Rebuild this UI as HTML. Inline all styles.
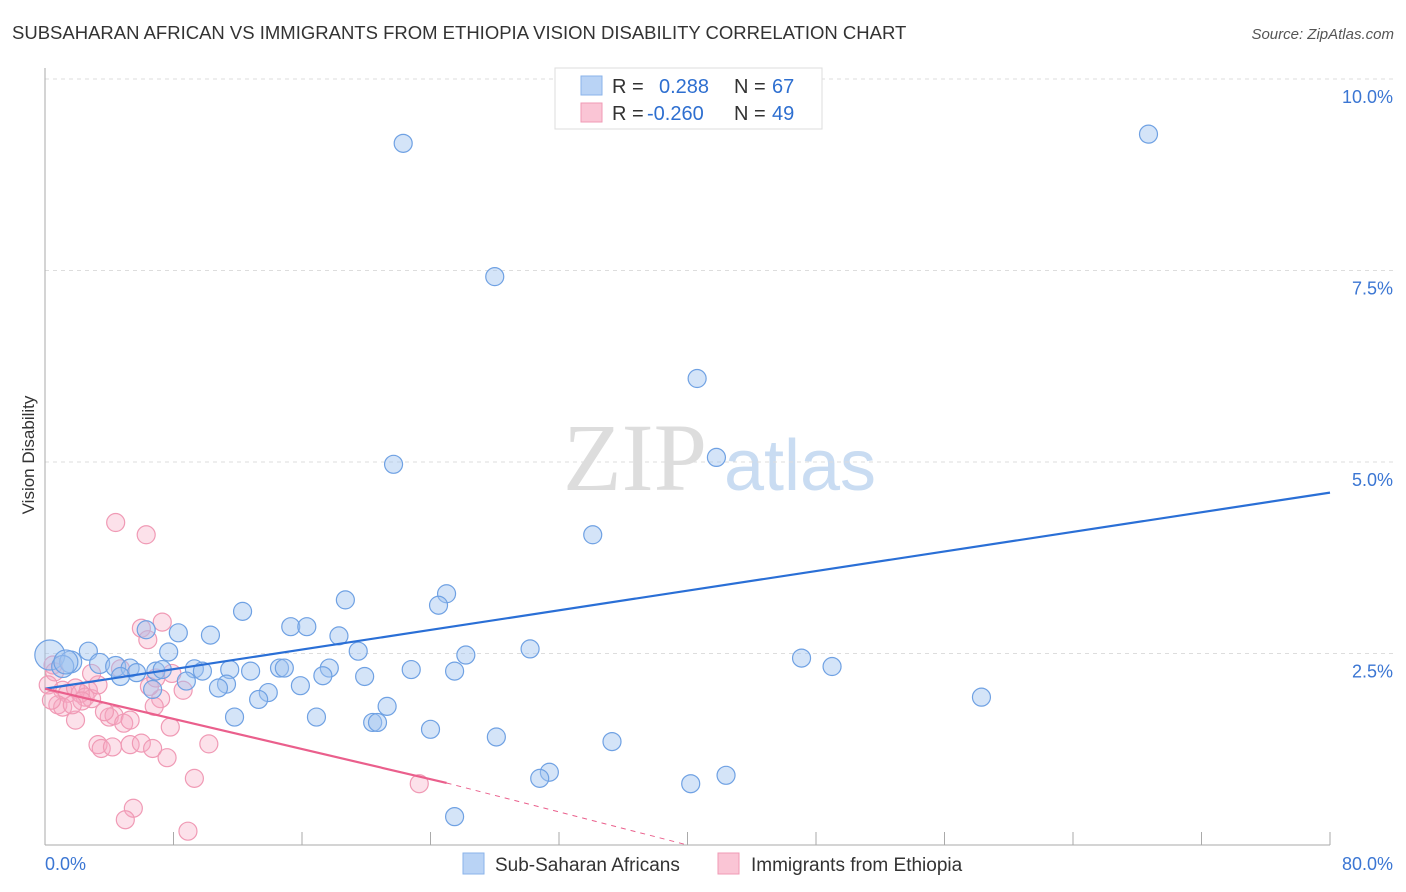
<!DOCTYPE html>
<html><head><meta charset="utf-8"><style>
body{margin:0;background:#fff;font-family:"Liberation Sans",sans-serif}
svg{display:block}
</style></head><body>
<svg id="chart" width="1406" height="892">
<text x="12" y="39" font-size="18.5" fill="#333">SUBSAHARAN AFRICAN VS IMMIGRANTS FROM ETHIOPIA VISION DISABILITY CORRELATION CHART</text>
<text x="1394" y="39" font-size="15" fill="#555" font-style="italic" text-anchor="end">Source: ZipAtlas.com</text>
<text x="34" y="455" font-size="17" fill="#333" text-anchor="middle" transform="rotate(-90 34 455)">Vision Disability</text>
<g>
<text x="635" y="490" font-size="96" font-family="Liberation Serif,serif" fill="#ddd" text-anchor="middle">ZIP</text>
<text x="800" y="490" font-size="72" fill="#c9dcf2" text-anchor="middle">atlas</text>
</g>
<g id="grid"></g><g id="axes"></g><g id="pts"></g><g id="lines"></g>
<g>
<rect x="555" y="68" width="267" height="61" fill="#fff" stroke="#ddd"/>
<rect x="581" y="76" width="21" height="19" fill="#b9d3f5" stroke="#8ab3ea"/>
<rect x="581" y="103" width="21" height="19" fill="#fac5d5" stroke="#f09ab5"/>
<text x="612" y="93" font-size="20" fill="#333">R = </text><text x="659" y="93" font-size="20" fill="#2e6fd0">0.288</text>
<text x="734" y="93" font-size="20" fill="#333">N = </text><text x="772" y="93" font-size="20" fill="#2e6fd0">67</text>
<text x="612" y="120" font-size="20" fill="#333">R = </text><text x="647" y="120" font-size="20" fill="#2e6fd0">-0.260</text>
<text x="734" y="120" font-size="20" fill="#333">N = </text><text x="772" y="120" font-size="20" fill="#2e6fd0">49</text>
</g>
<g>
<rect x="463" y="853" width="21" height="21" fill="#b9d3f5" stroke="#8ab3ea"/>
<text x="495" y="871" font-size="19" fill="#333">Sub-Saharan Africans</text>
<rect x="718" y="853" width="21" height="21" fill="#fac5d5" stroke="#f09ab5"/>
<text x="751" y="871" font-size="19" fill="#333">Immigrants from Ethiopia</text>
</g>
</svg>
<script>
const blueX=[22.3,68.7,28.0,40.6,21.7,41.8,34.1,25.0,18.7,24.5,12.3,15.3,16.3,8.3,10.3,18.3,6.3,2.7,7.7,30.2,26.2,19.5,47.1,49.0,0.3,1.6,3.4,4.4,5.3,1.1,9.3,11.5,14.6,14.9,17.7,6.9,5.7,9.8,12.8,7.3,22.8,25.5,17.3,19.9,4.7,8.8,11.3,10.8,6.7,15.9,13.9,13.3,21.3,11.8,16.9,20.4,20.7,24.0,28.1,35.3,31.4,30.8,42.4,40.2,25.5,58.3,1.3];
const blueY=[9.16,9.28,7.42,6.09,4.97,5.06,4.05,3.28,3.20,3.13,3.05,2.85,2.85,2.77,2.74,2.73,2.81,2.53,2.52,2.56,2.48,2.53,2.44,2.33,2.48,2.39,2.37,2.33,2.31,2.33,2.30,2.29,2.31,2.31,2.31,2.27,2.25,2.27,2.27,2.29,2.29,2.27,2.21,2.20,2.20,2.14,2.10,2.05,2.03,2.08,1.99,1.90,1.81,1.67,1.67,1.60,1.60,1.51,1.41,1.35,0.95,0.87,0.91,0.80,0.37,1.93,2.39];
const blueR=[9,9,9,9,9,9,9,9,9,9,9,9,9,9,9,9,9,9,9,9,9,9,9,9,15,11,10,10,9,11,9,9,9,9,9,9,9,9,9,9,9,9,9,9,9,9,9,9,9,9,9,9,9,9,9,9,9,9,9,9,9,9,9,9,9,9,12];
const pinkX=[4.4,6.3,7.3,6.0,6.4,0.5,0.6,1.1,1.4,1.9,2.7,2.5,2.9,2.2,0.8,1.1,3.3,2.9,4.7,4.0,4.3,4.9,3.7,2.3,1.9,5.3,7.2,8.6,6.8,7.8,3.3,3.5,4.2,5.3,6.0,6.7,7.6,10.2,9.3,23.3,5.5,5.0,8.9,6.5,7.9,6.9,1.7,0.2,0.4];
const pinkY=[4.21,4.05,2.91,2.83,2.68,2.35,2.26,2.02,1.98,2.05,2.02,1.93,1.91,1.98,1.83,1.80,2.09,2.24,2.30,1.67,1.69,1.59,1.74,1.88,1.63,1.63,1.91,2.02,1.81,1.54,1.31,1.26,1.28,1.31,1.33,1.26,1.14,1.32,0.87,0.80,0.48,0.33,0.18,2.07,2.24,2.18,1.83,2.09,1.89];
const xTicks=[0,8,16,24,32,40,48,56,64,72,80];
const yTicks=[2.5,5,7.5,10];
const yTickLabels=["2.5%","5.0%","7.5%","10.0%"];
const blueLine=[0,2.04,80,4.60];
const pinkLine=[0,2.04,25,0.81];
const pinkDashEnd=[40,0];
const X0=45,X1=1330,Y0=845,PXY=76.6;
const sx=v=>X0+(v/80)*(X1-X0), sy=v=>Y0-v*PXY;
const NS="http://www.w3.org/2000/svg";
function mk(t,a,p){const e=document.createElementNS(NS,t);for(const k in a)e.setAttribute(k,a[k]);p.appendChild(e);return e;}
const grid=document.getElementById('grid'),axes=document.getElementById('axes'),pts=document.getElementById('pts'),lines=document.getElementById('lines');
yTicks.forEach((v,i)=>{
 const l=mk('line',{x1:X0,x2:1394,y1:sy(v),y2:sy(v),stroke:'#ddd','stroke-dasharray':'4,4'},grid);
 
 
 const t=mk('text',{x:1393,y:sy(v)+24,'font-size':18,fill:'#3b76d3','text-anchor':'end'},grid);
 t.textContent=yTickLabels[i];
 
 
});
const ax=mk('line',{x1:X0,x2:X0,y1:68,y2:Y0,stroke:'#aaa'},axes);


const bx=mk('line',{x1:X0,x2:X1,y1:Y0,y2:Y0,stroke:'#aaa'},axes);


xTicks.forEach(v=>{const t=mk('line',{x1:sx(v),x2:sx(v),y1:832,y2:Y0,stroke:'#aaa'},axes);
 
 });
const xl0=mk('text',{x:45,y:870,'font-size':18,fill:'#3b76d3'},axes);xl0.textContent='0.0%';


const xl1=mk('text',{x:1393,y:870,'font-size':18,fill:'#3b76d3','text-anchor':'end'},axes);xl1.textContent='80.0%';


pinkX.forEach((x,i)=>{const c=mk('circle',{cx:sx(x),cy:sy(pinkY[i]),r:9,fill:'rgba(247,170,195,0.35)',stroke:'#f09ab5','stroke-width':1.2},pts);
 
 });
blueX.forEach((x,i)=>{const c=mk('circle',{cx:sx(x),cy:sy(blueY[i]),r:blueR[i],fill:'rgba(160,196,240,0.45)',stroke:'#6fa1e3','stroke-width':1.2},pts);
 
 });
const bl=mk('line',{x1:sx(blueLine[0]),y1:sy(blueLine[1]),x2:sx(blueLine[2]),y2:sy(blueLine[3]),stroke:'#2a6fd6','stroke-width':2.2},lines);


const pl=mk('line',{x1:sx(pinkLine[0]),y1:sy(pinkLine[1]),x2:sx(pinkLine[2]),y2:sy(pinkLine[3]),stroke:'#ea5f8c','stroke-width':2.2},lines);


const pd=mk('line',{x1:sx(pinkLine[2]),y1:sy(pinkLine[3]),x2:sx(pinkDashEnd[0]),y2:sy(pinkDashEnd[1]),stroke:'#ea5f8c','stroke-width':1,'stroke-dasharray':'5,5'},lines);


</script>
</body></html>
